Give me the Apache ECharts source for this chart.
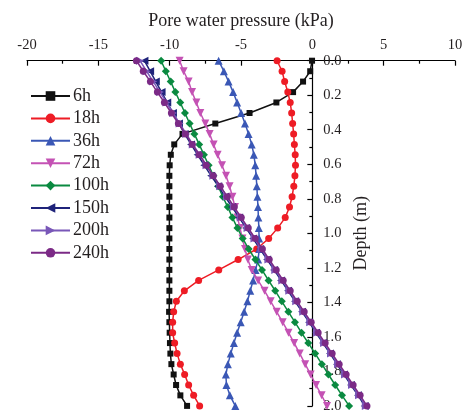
<!DOCTYPE html>
<html>
<head>
<meta charset="utf-8">
<script src="https://cdn.jsdelivr.net/npm/echarts@6/dist/echarts.min.js"></script>
<style>
html,body{margin:0;padding:0;background:#fff;}
#chart{width:465px;height:416px;}
</style>
</head>
<body>
<div id="chart"></div>
<script>
// Depth of each node (m)
const depths = [0, 0.061, 0.121, 0.182, 0.242, 0.303, 0.364, 0.424, 0.485, 0.545,
  0.606, 0.667, 0.727, 0.788, 0.848, 0.909, 0.970, 1.030, 1.091, 1.152,
  1.212, 1.273, 1.333, 1.394, 1.455, 1.515, 1.576, 1.636, 1.697, 1.758,
  1.818, 1.879, 1.939, 2.0];

const seriesNames = ['6h', '18h', '36h', '72h', '100h', '150h', '200h', '240h'];

// Pore water pressure (kPa) at each depth
const p6h = [-0.02, -0.15, -0.65, -1.35, -2.52, -4.4, -6.8, -9.1, -9.68, -9.92,
  -10.0, -10.02, -10.02, -10.02, -10.02, -10.02, -10.02, -10.02, -10.02, -10.02,
  -10.02, -10.02, -10.02, -10.02, -10.04, -10.02, -10.0, -9.98, -9.95, -9.88,
  -9.72, -9.55, -9.25, -8.78];
const p18h = [-2.47, -2.12, -1.94, -1.72, -1.55, -1.45, -1.38, -1.31, -1.26, -1.2,
  -1.18, -1.22, -1.3, -1.42, -1.6, -1.9, -2.43, -3.06, -3.9, -5.2,
  -6.56, -7.97, -8.97, -9.53, -9.72, -9.79, -9.79, -9.65, -9.48, -9.25,
  -8.95, -8.67, -8.32, -7.9];
const p36h = [-6.57, -6.2, -5.87, -5.55, -5.27, -4.99, -4.72, -4.47, -4.25, -4.1,
  -4.0, -3.94, -3.89, -3.85, -3.81, -3.78, -3.75, -3.73, -3.72, -3.8,
  -3.98, -4.15, -4.35, -4.55, -4.78, -5.02, -5.27, -5.5, -5.72, -5.92,
  -6.06, -6.02, -5.78, -5.4];
const p72h = [-9.3, -9.02, -8.67, -8.43, -8.13, -7.85, -7.5, -7.2, -6.92, -6.64,
  -6.33, -6.05, -5.8, -5.6, -5.42, -5.24, -5.07, -4.9, -4.72, -4.52,
  -4.25, -3.8, -3.35, -2.92, -2.5, -2.08, -1.67, -1.27, -0.88, -0.5,
  -0.12, 0.26, 0.65, 1.03];
const p100h = [-10.6, -10.27, -9.93, -9.6, -9.26, -8.93, -8.6, -8.27, -7.93, -7.6,
  -7.27, -6.93, -6.6, -6.27, -5.93, -5.6, -5.25, -4.88, -4.46, -3.99,
  -3.53, -3.07, -2.6, -2.14, -1.68, -1.22, -0.76, -0.28, 0.2, 0.67,
  1.13, 1.6, 2.08, 2.58];
const p150h = [-11.77, -11.37, -10.97, -10.57, -10.17, -9.77, -9.35, -8.95, -8.5, -8.04,
  -7.57, -7.09, -6.6, -6.11, -5.62, -5.13, -4.64, -4.15, -3.66, -3.17,
  -2.68, -2.19, -1.7, -1.21, -0.72, -0.23, 0.26, 0.75, 1.24, 1.73,
  2.22, 2.71, 3.2, 3.67];
const p200h = [-12.08, -11.62, -11.15, -10.68, -10.22, -9.76, -9.3, -8.84, -8.38, -7.9,
  -7.42, -6.94, -6.46, -5.98, -5.5, -5.02, -4.54, -4.06, -3.57, -3.08,
  -2.6, -2.11, -1.62, -1.13, -0.64, -0.15, 0.33, 0.82, 1.31, 1.8,
  2.29, 2.78, 3.27, 3.75];
const p240h = [-12.33, -11.85, -11.35, -10.86, -10.37, -9.88, -9.39, -8.9, -8.41, -7.92,
  -7.43, -6.94, -6.45, -5.96, -5.47, -4.98, -4.49, -4.0, -3.5, -3.02,
  -2.53, -2.04, -1.55, -1.06, -0.57, -0.08, 0.41, 0.9, 1.39, 1.88,
  2.37, 2.86, 3.35, 3.83];

const xTicks = [-20, -15, -10, -5, 0, 5, 10];
const yTicks = [0.0, 0.2, 0.4, 0.6, 0.8, 1.0, 1.2, 1.4, 1.6, 1.8, 2.0];

const allValues = [p6h, p18h, p36h, p72h, p100h, p150h, p200h, p240h];
const styles = [
  {color: '#111111', symbol: 'rect', size: 6, rotate: 0},
  {color: '#ee1c25', symbol: 'circle', size: 7, rotate: 0},
  {color: '#3a57b5', symbol: 'triangle', size: 8, rotate: 0},
  {color: '#c452b4', symbol: 'triangle', size: 8, rotate: 180},
  {color: '#0a8a40', symbol: 'diamond', size: 8, rotate: 0},
  {color: '#1f237a', symbol: 'triangle', size: 8, rotate: 90},
  {color: '#7957b8', symbol: 'triangle', size: 8, rotate: -90},
  {color: '#7b2a86', symbol: 'circle', size: 7, rotate: 0}
];

const FONT = 'Liberation Serif';
const TXT = '#231f20';

const W = 465, GRID_L = 27, GRID_R = 10;
const xMin = xTicks[0], xMax = xTicks[xTicks.length - 1];
// place the depth axis at x = 0 (shift it left from the grid's right edge)
const gridW = W - GRID_L - GRID_R;
const yAxisOffset = -gridW * (xMax - 0) / (xMax - xMin);

const series = seriesNames.map((name, k) => ({
  name: name,
  type: 'line',
  data: allValues[k].map((v, i) => [v, depths[i]]),
  symbol: styles[k].symbol,
  symbolSize: styles[k].size,
  symbolRotate: styles[k].rotate,
  showAllSymbol: true,
  color: styles[k].color,
  lineStyle: {width: 1.5, color: styles[k].color},
  itemStyle: {color: styles[k].color},
  animation: false,
  z: 2 + k
}));

const chart = echarts.init(document.getElementById('chart'), null, {renderer: 'canvas'});
chart.setOption({
  backgroundColor: '#ffffff',
  animation: false,
  grid: {left: GRID_L, right: GRID_R, top: 60.7, bottom: 10.1, containLabel: false, outerBoundsMode: 'none'},
  legend: {
    orient: 'vertical',
    left: 30,
    top: 87,
    padding: 0,
    itemWidth: 39,
    itemHeight: 12,
    itemGap: 4.4,
    data: seriesNames,
    textStyle: {fontFamily: FONT, fontSize: 18, color: TXT, lineHeight: 18, padding: [0, 0, 0, -2]}
  },
  xAxis: {
    type: 'value',
    position: 'top',
    min: xMin,
    max: xMax,
    interval: 5,
    name: 'Pore water pressure (kPa)',
    nameLocation: 'middle',
    nameGap: 30,
    nameTextStyle: {fontFamily: FONT, fontSize: 18, color: TXT},
    axisLine: {onZero: false, lineStyle: {color: '#000', width: 1.2}},
    axisTick: {inside: true, length: 5, lineStyle: {color: '#000', width: 1.2}},
    minorTick: {show: true, splitNumber: 2, length: 3, lineStyle: {color: '#000', width: 1.2}},
    splitLine: {show: false},
    axisLabel: {margin: 8, fontFamily: FONT, fontSize: 14.5, color: TXT}
  },
  yAxis: {
    type: 'value',
    position: 'right',
    offset: yAxisOffset,
    inverse: true,
    min: yTicks[0],
    max: yTicks[yTicks.length - 1],
    interval: 0.2,
    name: 'Depth (m)',
    nameLocation: 'middle',
    nameRotate: 90,
    nameGap: 40,
    nameTextStyle: {fontFamily: FONT, fontSize: 18, color: TXT, padding: [0, 0, 6, 0]},
    axisLine: {onZero: false, lineStyle: {color: '#000', width: 1.2}},
    axisTick: {inside: true, length: 5, lineStyle: {color: '#000', width: 1.2}},
    minorTick: {show: true, splitNumber: 2, length: 3, lineStyle: {color: '#000', width: 1.2}},
    splitLine: {show: false},
    axisLabel: {margin: 11, fontFamily: FONT, fontSize: 14.5, color: TXT,
      formatter: v => v.toFixed(1)}
  },
  series: series
});
</script>
</body>
</html>
